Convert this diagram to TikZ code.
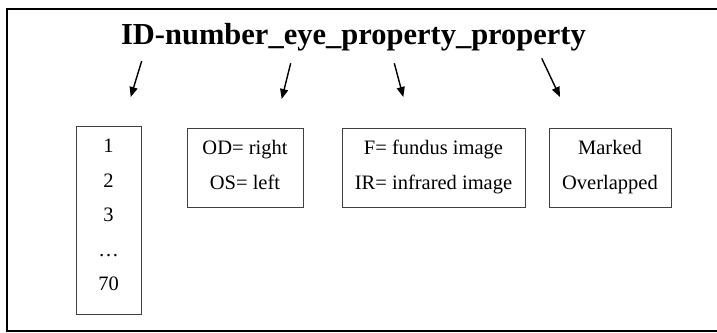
\documentclass[tikz,border=0pt]{standalone}
\usepackage{fontspec}
\setmainfont{Liberation Serif}
\usetikzlibrary{arrows.meta}
\begin{document}
\begin{tikzpicture}[x=1pt,y=-1pt,
  frame/.style={draw=black, line width=2.2pt},
  box/.style={draw=black!75, line width=0.9pt, inner sep=0pt},
  txt/.style={inner sep=0pt, anchor=base, font=\fontsize{20.5}{24}\selectfont},
  ttl/.style={inner sep=0pt, anchor=base, font=\fontsize{30.5}{36}\selectfont\bfseries},
  arr/.style={line width=1.4pt, -{Triangle[length=10pt,width=8pt]}}]
\useasboundingbox (0,0) rectangle (717,332);
\clip (0,0) rectangle (717,332);
\draw[frame] (7,9) rectangle (740,330.8);
% title
\node[ttl] (title) at (353.5,44.5) {ID-number\_eye\_property\_property};
% arrows
\coordinate (a1s) at (141.7,61);  \coordinate (a1e) at (130.7,97);
\coordinate (a2s) at (290.7,63.3); \coordinate (a2e) at (281.7,99);
\coordinate (a3s) at (394.3,63.3); \coordinate (a3e) at (403.3,97);
\coordinate (a4s) at (541.7,58.3); \coordinate (a4e) at (560,97);
\draw[arr] (a1s) -- (a1e);
\draw[arr] (a2s) -- (a2e);
\draw[arr] (a3s) -- (a3e);
\draw[arr] (a4s) -- (a4e);
% boxes
\node[box, minimum width=65pt, minimum height=188pt] (b1) at (108.5,220) {};
\node[box, minimum width=116pt, minimum height=79pt] (b2) at (245,167.5) {};
\node[box, minimum width=183pt, minimum height=79pt] (b3) at (433.5,167.5) {};
\node[box, minimum width=122pt, minimum height=79pt] (b4) at (610,167.5) {};
% box 1 text
\node[txt] (n1) at (108.5,152.7) {1};
\node[txt] (n2) at (108.5,187.2) {2};
\node[txt] (n3) at (108.5,221.7) {3};
\node[txt] (n4) at (108.5,256.2) {…};
\node[txt] (n5) at (108.5,290.7) {70};
% box 2 text
\node[txt] (od) at (245,154.3) {OD= right};
\node[txt] (os) at (245,189.3) {OS= left};
% box 3 text
\node[txt] (f) at (433.5,154.3) {F= fundus image};
\node[txt] (ir) at (433.5,189.3) {IR= infrared image};
% box 4 text
\node[txt] (mk) at (610,154.3) {Marked};
\node[txt] (ov) at (610,189.3) {Overlapped};
\end{tikzpicture}
\end{document}
